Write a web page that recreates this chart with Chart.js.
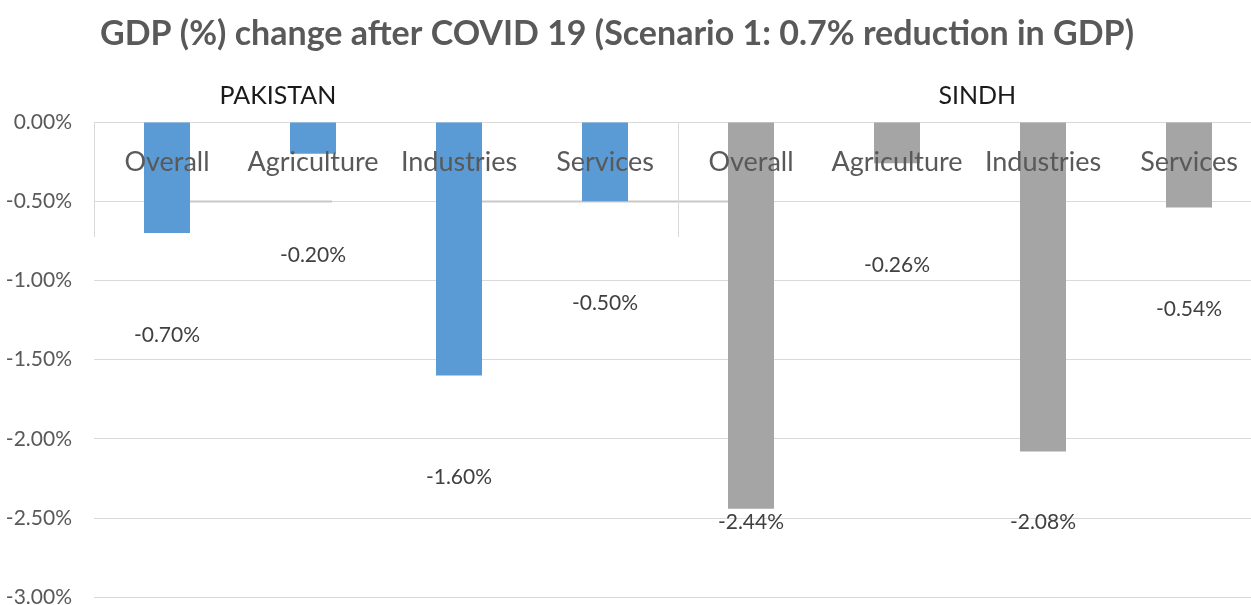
<!DOCTYPE html>
<html>
<head>
<meta charset="utf-8">
<script src="https://cdn.jsdelivr.net/npm/chart.js@4/dist/chart.umd.min.js"></script>
<style>
  html, body { margin: 0; padding: 0; background: #fff; overflow: hidden; }
  #wrap { width: 1262px; height: 605px; overflow: hidden; }
</style>
</head>
<body>
<div id="wrap"><canvas id="gdp" width="1262" height="632"></canvas></div>
<script>
const TITLE = 'GDP (%) change after COVID 19 (Scenario 1: 0.7% reduction in GDP)';
const sectors = ['Overall', 'Agriculture', 'Industries', 'Services',
                 'Overall', 'Agriculture', 'Industries', 'Services'];
const regions = ['PAKISTAN', 'SINDH'];
const gdpChange = [-0.70, -0.20, -1.60, -0.50, -2.44, -0.26, -2.08, -0.54];
const yTicks = [0, -0.5, -1, -1.5, -2, -2.5, -3];

const BLUE = '#5B9BD5';
const GREY = '#A5A5A5';
const TEXT = '#595959';
const FONT = 'Lato, "Open Sans", sans-serif';

const fmt = v => v.toFixed(2) + '%';

// region text boxes sit at these category positions
const regionAnchor = [0.76, 5.55];

const decorations = {
  id: 'decorations',
  beforeDatasetsDraw(chart) {
    const { ctx, scales: { x, y }, chartArea } = chart;
    ctx.save();
    // slightly heavier axis remnant at -0.5%
    const meta = chart.getDatasetMeta(0).data;
    const yy = Math.round(y.getPixelForValue(-0.5)) + 0.5;
    ctx.strokeStyle = '#c9c9c9';
    ctx.lineWidth = 2;
    ctx.beginPath();
    ctx.moveTo(meta[0].x + meta[0].width / 2, yy);
    ctx.lineTo(meta[1].x + meta[1].width / 2 - 4, yy);
    ctx.moveTo(meta[2].x + meta[2].width / 2, yy);
    ctx.lineTo(meta[4].x - meta[4].width / 2, yy);
    ctx.stroke();
    // group dividers of the two-level category axis
    ctx.strokeStyle = '#d9d9d9';
    ctx.lineWidth = 1;
    const top = chartArea.top;
    const half = (x.getPixelForValue(1) - x.getPixelForValue(0)) / 2;
    [0, 4].forEach(i => {
      const xx = Math.round(x.getPixelForValue(i) - half) + 0.5;
      ctx.beginPath();
      ctx.moveTo(xx, top);
      ctx.lineTo(xx, top + 115);
      ctx.stroke();
    });
    ctx.restore();
  },
  afterDatasetsDraw(chart) {
    const { ctx, scales: { x, y }, chartArea } = chart;
    ctx.save();
    ctx.textAlign = 'center';
    ctx.textBaseline = 'middle';

    // title
    ctx.fillStyle = TEXT;
    ctx.font = 'bold 34px ' + FONT;
    ctx.fillText(TITLE, 617, 34);

    // region names
    ctx.fillStyle = '#1a1a1a';
    ctx.font = '25px ' + FONT;
    regions.forEach((r, i) => {
      ctx.fillText(r, x.getPixelForValue(regionAnchor[i]), chartArea.top - 26);
    });

    // sector names across the top of the plot
    ctx.fillStyle = TEXT;
    ctx.font = '27px ' + FONT;
    const labelY = y.getPixelForValue(0) + 40;
    sectors.forEach((s, i) => {
      ctx.fillText(s, x.getPixelForValue(i), labelY);
    });

    // value labels under the bars
    ctx.fillStyle = '#404040';
    ctx.font = '21px ' + FONT;
    const floor = y.getPixelForValue(-2.5) + 4;
    chart.getDatasetMeta(0).data.forEach((bar, i) => {
      const ty = Math.min(bar.y + 102, floor);
      ctx.fillText(fmt(gdpChange[i]), bar.x, ty);
    });
    ctx.restore();
  }
};

const chart = new Chart(document.getElementById('gdp'), {
  type: 'bar',
  data: {
    labels: sectors,
    datasets: [{
      data: gdpChange,
      backgroundColor: gdpChange.map((_, i) => (i < 4 ? BLUE : GREY)),
      borderWidth: 0,
      categoryPercentage: 1,
      barPercentage: 0.315
    }]
  },
  options: {
    responsive: false,
    animation: false,
    layout: { padding: { top: 122, bottom: 8, left: 0, right: 0 } },
    plugins: {
      legend: { display: false },
      tooltip: { enabled: false },
      title: { display: false }
    },
    scales: {
      x: { display: false },
      y: {
        min: -3,
        max: 0,
        afterFit: s => { s.width = 94; },
        afterBuildTicks: s => { s.ticks = yTicks.map(v => ({ value: v })); },
        ticks: {
          padding: 22,
          color: TEXT,
          font: { family: FONT, size: 21 },
          callback: v => fmt(v)
        },
        grid: { color: '#d9d9d9', drawTicks: false, lineWidth: 1 },
        border: { display: false }
      }
    }
  },
  plugins: [decorations]
});
</script>
</body>
</html>
